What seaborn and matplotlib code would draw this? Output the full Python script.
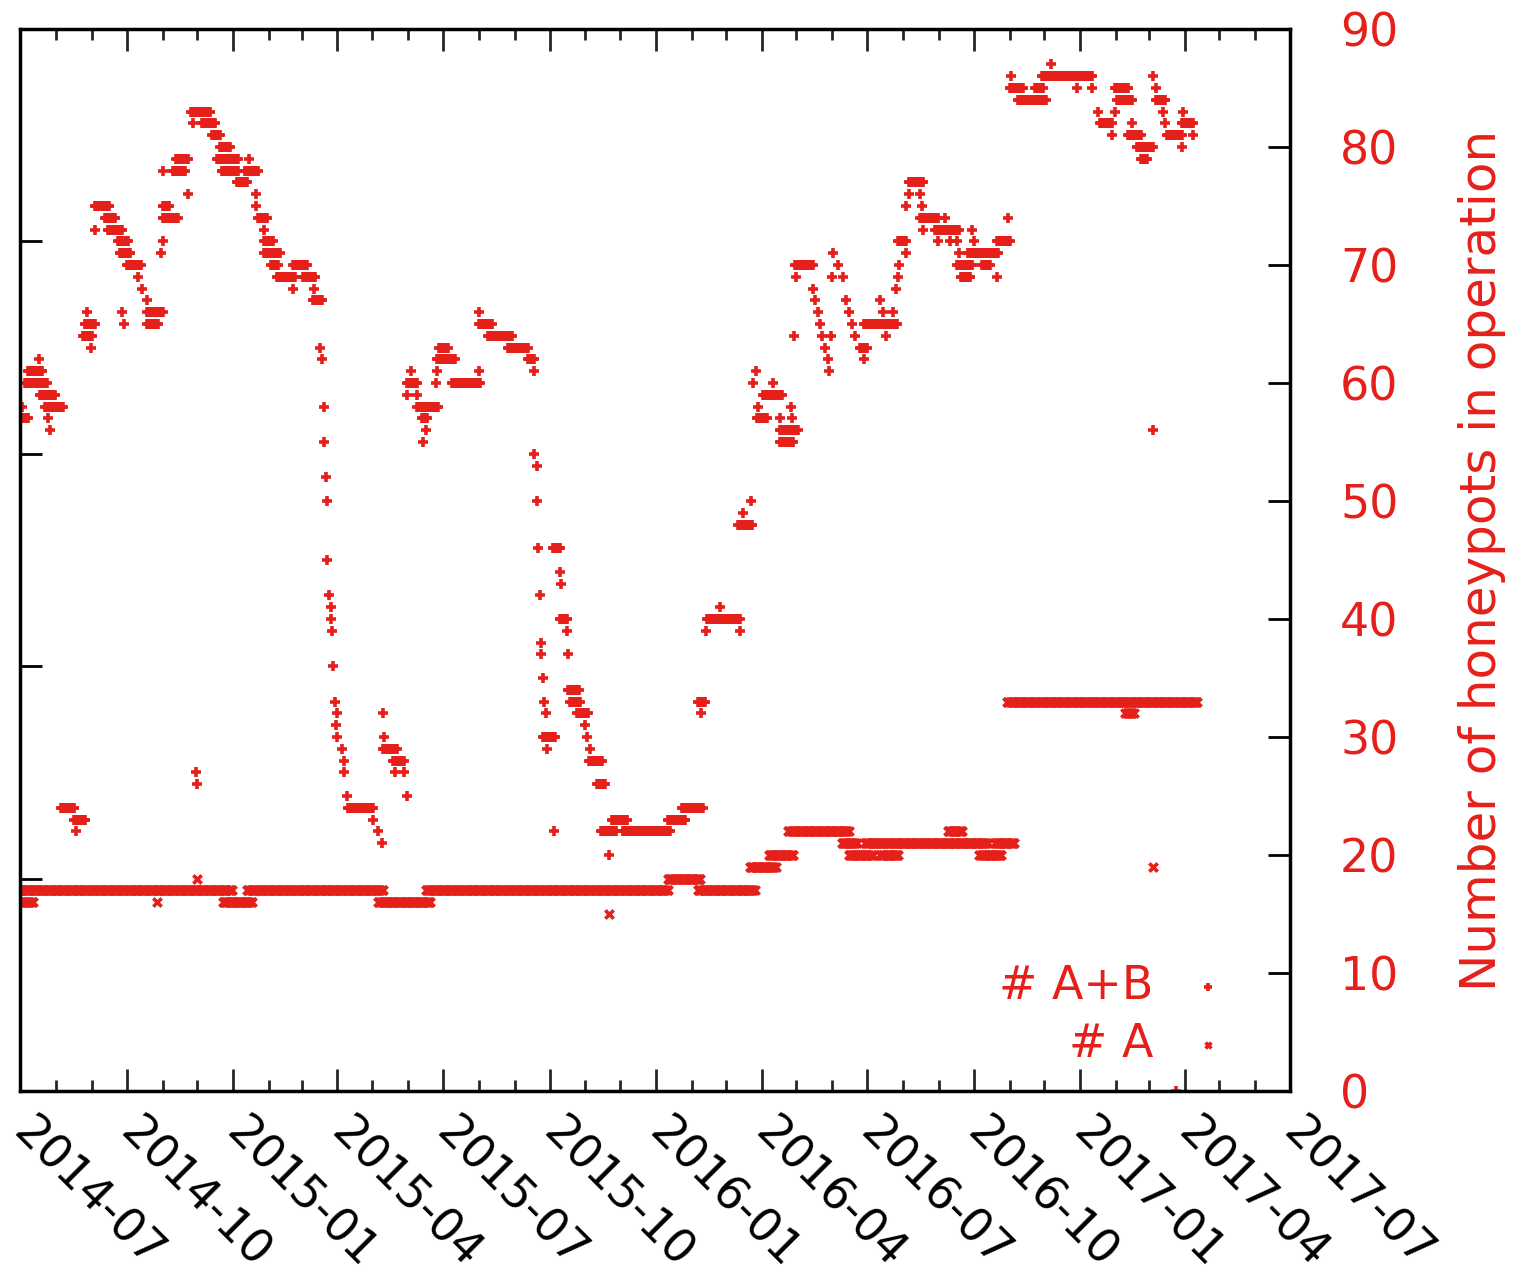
import numpy as np
import pandas as pd
import seaborn as sns
import matplotlib.pyplot as plt
import matplotlib.dates as mdates

# observation start; run bounds below are days counted from this date
START = pd.Timestamp("2014-07-01")

# "# A+B" : runs of days holding the same count (first day, last day, count)
ab_first = [0, 2, 4, 7, 16, 17, 24, 26, 22, 35, 47, 48, 54, 56, 58, 61,
            65, 65, 73, 76, 85, 86, 88, 90, 92, 102, 105, 110, 110, 110,
            122, 123, 123, 123, 123, 132, 135, 145, 148, 149, 152, 153, 157, 166, 170, 173, 174,
            187, 198, 194, 204, 204, 205, 211, 211, 211, 217, 222, 236, 236, 244, 254, 253,
            259, 261, 262, 262, 264, 265, 265, 267, 268, 268, 269, 270, 272, 274, 273, 274, 278, 280, 280, 282,
            283, 305, 309, 312, 313, 314, 313, 322, 324, 331, 334,
            337, 334, 334, 343, 343, 347, 350, 348,
            359, 360, 360, 362, 373, 396, 396, 396, 404, 421, 438, 444,
            444, 446, 446, 447, 449, 450, 450, 451, 452, 454, 451, 455,
            460, 461, 466, 467, 466, 472, 473, 473, 475, 481, 488, 489, 492, 491, 498,
            511, 501, 508, 520, 559, 571,
            585, 588, 592, 593, 604, 621, 620, 624, 631,
            635, 633, 637, 636, 641, 650, 656, 656, 656, 665, 666,
            668, 669, 670, 684, 686, 689, 690, 692, 695, 697, 698,
            700, 701, 702, 706, 710, 713, 715, 718, 721,
            725, 728, 728, 742, 745, 753, 747, 756, 758, 759,
            758, 765, 765, 767, 767, 777, 778, 777, 779,
            790, 792, 798, 803, 809, 810, 809, 812, 822, 823, 818, 830, 843, 843, 853,
            855, 854, 861, 876, 882, 890, 912, 925,
            930, 932, 942, 945, 947, 945, 960, 956, 964, 967,
            978, 978, 980, 980, 986, 988, 990, 1003, 1004, 1003, 1012, 998]
ab_last = [7, 2, 23, 19, 16, 30, 24, 26, 37, 47, 56, 48, 62, 65, 58, 61,
           77, 65, 82, 88, 93, 95, 88, 90, 104, 102, 105, 110, 123, 119,
           122, 123, 123, 136, 129, 142, 145, 145, 164, 149, 152, 153, 168, 173, 188, 181, 188,
           196, 198, 205, 204, 204, 213, 211, 218, 224, 223, 237, 236, 248, 255, 254, 261,
           259, 261, 262, 262, 264, 265, 265, 267, 268, 268, 269, 270, 272, 274, 273, 274, 278, 280, 280, 282,
           305, 305, 309, 312, 313, 314, 325, 331, 324, 331, 334,
           337, 343, 334, 343, 361, 351, 350, 348,
           359, 360, 375, 369, 397, 396, 396, 407, 425, 438, 444, 444,
           444, 446, 446, 447, 449, 450, 450, 451, 452, 454, 462, 455,
           466, 461, 466, 467, 472, 472, 473, 482, 483, 490, 488, 489, 492, 502, 505,
           524, 514, 508, 561, 574, 589,
           591, 588, 592, 621, 604, 621, 632, 624, 631,
           635, 633, 637, 645, 658, 650, 656, 671, 667, 665, 666,
           668, 684, 670, 684, 686, 689, 690, 692, 695, 697, 698,
           700, 701, 702, 706, 710, 713, 715, 718, 721,
           731, 728, 757, 742, 745, 753, 747, 756, 758, 759,
           765, 765, 765, 767, 779, 777, 778, 792, 779,
           810, 792, 798, 803, 809, 810, 822, 820, 822, 823, 844, 837, 843, 854, 853,
           855, 866, 885, 883, 925, 890, 912, 925,
           930, 942, 942, 956, 960, 945, 960, 967, 978, 973,
           978, 978, 980, 988, 986, 988, 1003, 1003, 1004, 1012, 1012, 998]
ab_count = [57, 58, 60, 61, 62, 59, 57, 56, 58, 24, 23, 22, 64, 65, 66, 63,
            75, 73, 74, 73, 72, 71, 66, 65, 70, 69, 68, 67, 66, 65,
            71, 72, 78, 74, 75, 78, 79, 76, 83, 82, 27, 26, 82, 81, 79, 80, 78,
            77, 79, 78, 76, 75, 74, 73, 72, 71, 70, 69, 68, 70, 69, 68, 67,
            63, 62, 58, 55, 52, 50, 45, 42, 41, 40, 39, 36, 33, 32, 31, 30, 29, 28, 27, 25,
            24, 23, 22, 21, 32, 30, 29, 28, 27, 27, 25,
            61, 60, 59, 59, 58, 57, 56, 55,
            60, 61, 62, 63, 60, 61, 66, 65, 64, 63, 62, 61,
            54, 53, 50, 46, 42, 38, 37, 35, 33, 32, 30, 29,
            46, 22, 44, 43, 40, 39, 37, 34, 33, 32, 31, 30, 29, 28, 26,
            23, 22, 20, 22, 23, 24,
            33, 32, 39, 40, 41, 39, 48, 49, 50,
            61, 60, 58, 57, 59, 60, 57, 56, 55, 58, 57,
            64, 70, 69, 68, 67, 66, 65, 64, 63, 62, 61,
            64, 69, 71, 70, 69, 67, 66, 65, 64,
            63, 62, 65, 67, 66, 66, 64, 68, 69, 70,
            72, 71, 75, 76, 77, 76, 75, 74, 73,
            73, 72, 74, 72, 72, 71, 70, 69, 73, 72, 71, 70, 69, 72, 74,
            86, 85, 84, 85, 86, 87, 85, 85,
            83, 82, 81, 85, 84, 83, 82, 81, 80, 79,
            86, 56, 85, 84, 83, 82, 81, 80, 83, 82, 81, 0]

# "# A"
a_first = [-2, 3, 118, 153, 175, 196, 309, 350, 508, 559, 585, 630, 646, 663, 709,
           715, 729, 742, 750, 801, 807, 828, 841, 852, 954, 978]
a_last = [183, 11, 118, 153, 200, 313, 354, 559, 508, 587, 634, 652, 667, 715, 722,
          736, 748, 758, 807, 813, 835, 847, 858, 1016, 961, 978]
a_count = [17, 16, 16, 18, 16, 17, 16, 17, 15, 18, 17, 19, 20, 22, 21,
           20, 21, 20, 21, 22, 21, 20, 21, 33, 32, 19]

RED = "#e5201a"


def expand(first, last, counts):
    days, vals = [], []
    for f, l, c in zip(first, last, counts):
        for d in range(f, l + 1):
            days.append(d)
            vals.append(c)
    return pd.DataFrame({"date": START + pd.to_timedelta(days, unit="D"), "count": vals})


ab = expand(ab_first, ab_last, ab_count)
a = expand(a_first, a_last, a_count)

sns.set_theme(style="ticks")
plt.rcParams["font.family"] = ["DejaVu Sans"]

fig = plt.figure(figsize=(15.13, 12.83), dpi=100)
ax = fig.add_axes([20 / 1513, 192 / 1283, 1270 / 1513, 1062 / 1283])
# unlabelled ticks on the left border (twinx first: it moves ax's ticks)
ax_left = ax.twinx()

sns.scatterplot(data=ab, x="date", y="count", marker="+", color=RED, s=60,
                linewidth=2.6, ax=ax, label="# A+B")
sns.scatterplot(data=a, x="date", y="count", marker="x", color=RED, s=36,
                linewidth=2.6, ax=ax, label="# A")

ax.set_xlim(pd.Timestamp("2014-07-01"), pd.Timestamp("2017-07-01"))
ax.set_ylim(0, 90)
ax.set_xlabel("")

# counts on the right axis
ax.yaxis.tick_right()
ax.yaxis.set_label_position("right")
ax.set_yticks(range(0, 91, 10))
ax.tick_params(axis="y", which="major", direction="in", length=16, width=2,
               left=False, right=True, labelleft=False, labelright=True,
               color="black", labelcolor=RED, labelsize=33, pad=36)
ax.set_ylabel("Number of honeypots in operation", color=RED, fontsize=36, labelpad=43)

# dates
ax.xaxis.set_major_locator(mdates.MonthLocator(bymonth=[1, 4, 7, 10]))
ax.xaxis.set_minor_locator(mdates.MonthLocator())
ax.xaxis.set_major_formatter(mdates.DateFormatter("%Y-%m"))
ax.tick_params(axis="x", which="major", direction="in", length=16, width=2,
               top=True, labelsize=33, labelcolor="black", pad=25)
ax.tick_params(axis="x", which="minor", direction="in", length=8, width=2, top=True)
for lbl in ax.get_xticklabels():
    lbl.set_rotation(-45)
    lbl.set_ha("left")
    lbl.set_va("center")
    lbl.set_rotation_mode("anchor")

for sp in ax.spines.values():
    sp.set_visible(True)
    sp.set_linewidth(2.5)
    sp.set_color("black")

ax_left.set_ylim(0, 5)
ax_left.set_yticks(range(6))
ax_left.set_yticklabels([])
ax_left.tick_params(axis="y", direction="in", length=16, width=2, color="black",
                    left=True, right=False, labelleft=False, labelright=False)
for sp in ax_left.spines.values():
    sp.set_visible(False)

ax.legend(loc="lower right", bbox_to_anchor=(0.9535, 0.023), markerfirst=False,
          frameon=False, labelcolor=RED, fontsize=33, handlelength=1.0,
          handletextpad=0.7, labelspacing=0.27, borderpad=0, borderaxespad=0,
          markerscale=0.7)

fig.savefig("out.png", dpi=100)
